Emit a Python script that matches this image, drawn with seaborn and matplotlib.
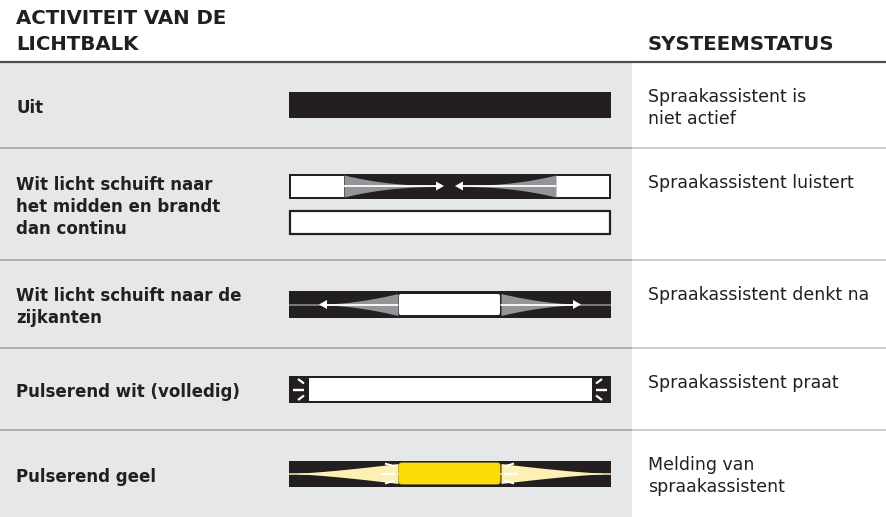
import numpy as np
import seaborn as sns
import matplotlib.pyplot as plt
from matplotlib.patches import Rectangle, FancyBboxPatch, Polygon

sns.set_theme(style="white")
plt.rcParams['font.family'] = ['DejaVu Sans']

# table content
header_left = "ACTIVITEIT VAN DE\nLICHTBALK"
header_right = "SYSTEEMSTATUS"
activities = ["Uit",
              "Wit licht schuift naar\nhet midden en brandt\ndan continu",
              "Wit licht schuift naar de\nzijkanten",
              "Pulserend wit (volledig)",
              "Pulserend geel"]
statuses = ["Spraakassistent is\nniet actief",
            "Spraakassistent luistert",
            "Spraakassistent denkt na",
            "Spraakassistent praat",
            "Melding van\nspraakassistent"]
patterns = ["off", "to_center", "to_sides", "pulse_white", "pulse_yellow"]

# layout (pixels)
row_edges = [62, 148, 260, 348, 430, 517]
W, H = 886, 517
grey_w = 632
bx0, bx1 = 289, 611   # light bar span
bar_h = 26

TXT = "#231f20"
BLACK = "#231f20"
GREY_BG = "#e6e7e8"
HORN = "#939598"
YEL = "#fbdc06"
PALE = "#fdf0b4"

fig = plt.figure(figsize=(W / 100, H / 100), dpi=100)
ax = fig.add_axes([0, 0, 1, 1])
ax.set_xlim(0, W)
ax.set_ylim(H, 0)
ax.axis('off')

ax.add_patch(Rectangle((0, row_edges[0]), grey_w, H - row_edges[0], color=GREY_BG, lw=0, zorder=0))
ax.plot([0, W], [row_edges[0], row_edges[0]], color="#4d4d4f", lw=1.6, solid_capstyle='butt')
for y in row_edges[1:-1]:
    ax.plot([0, grey_w], [y, y], color="#a7a9ac", lw=1.3, solid_capstyle='butt')
    ax.plot([grey_w, W], [y, y], color="#c7c8ca", lw=1.3, solid_capstyle='butt')

ax.text(16, 31.5, header_left, fontsize=14.2, fontweight='bold', color=TXT,
        va='center', ha='left', linespacing=1.5)
ax.text(648, 45, header_right, fontsize=14.2, fontweight='bold', color=TXT,
        va='center', ha='left')

z = [3]


def nz():
    z[0] += 0.1
    return z[0]


def px(n):
    return n * 0.72


def box(x, y, w, h, **kw):
    ax.add_patch(Rectangle((x, y), w, h, zorder=nz(), **kw))


def horn(x0, x1, yc, h0, color, p=2.2):
    t = np.linspace(0, 1, 80)
    x = x0 + (x1 - x0) * t
    half = h0 * (1 - t) ** p + 0.5
    ax.fill_between(x, yc - half, yc + half, color=color, lw=0, zorder=nz())


def arrow_head(tip, yc, direction, color='white'):
    b = tip - direction * 8
    ax.add_patch(Polygon([(b, yc - 4.5), (tip, yc), (b, yc + 4.5)], closed=True,
                         color=color, lw=0, zorder=nz()))


def seg(x, y, lw, color='white'):
    ax.plot(x, y, color=color, lw=px(lw), solid_capstyle='butt', zorder=nz())


def pill(x, y, w, h, r, **kw):
    ax.add_patch(FancyBboxPatch((x, y), w, h, boxstyle=f"round,pad=0,rounding_size={r}",
                                zorder=nz(), **kw))


def draw_bar(kind, yc):
    y0 = yc - bar_h / 2
    if kind == "off":
        box(bx0, y0, bx1 - bx0, bar_h, color=BLACK, lw=0)
    elif kind == "to_center":
        yt = yc - 18
        box(bx0, yt - 12.5, bx1 - bx0, 25, color=BLACK, lw=0)
        box(bx0 + 2, yt - 10.5, 53, 21, color='white', lw=0)
        box(556, yt - 10.5, bx1 - 2 - 556, 21, color='white', lw=0)
        horn(344, 440, yt, 10.5, HORN, p=2.2)
        horn(556, 460, yt, 10.5, HORN, p=2.2)
        seg([344, 437], [yt, yt], 1.8)
        arrow_head(444, yt, 1)
        seg([556, 463], [yt, yt], 1.8)
        arrow_head(455, yt, -1)
        yb = yc + 18
        box(bx0 + 1, yb - 11.5, bx1 - bx0 - 2, 23, facecolor='white',
            edgecolor=BLACK, lw=px(2.2))
    elif kind == "to_sides":
        box(bx0, y0, bx1 - bx0, bar_h + 1, color=BLACK, lw=0)
        yc = yc + 0.5
        seg([bx0, bx1], [yc, yc], 1.5, HORN)
        horn(398, 323, yc, 10.5, HORN, p=1.7)
        horn(501, 577, yc, 10.5, HORN, p=1.7)
        seg([398, 326], [yc, yc], 1.8)
        arrow_head(319, yc, -1)
        seg([501, 574], [yc, yc], 1.8)
        arrow_head(581, yc, 1)
        pill(399, yc - 10.5, 101, 21, 2, color='white', lw=0)
    elif kind == "pulse_white":
        box(bx0, y0, bx1 - bx0, bar_h + 1, color=BLACK, lw=0)
        yc = yc + 0.5
        box(309, yc - 11.5, 283, 23, color='white', lw=0)
        for s, xe in ((1, bx0), (-1, bx1)):
            seg([xe + s * 4, xe + s * 15], [yc, yc], 2.4)
            seg([xe + s * 9, xe + s * 15], [yc - 10.5, yc - 6], 2.2)
            seg([xe + s * 9, xe + s * 15], [yc + 10.5, yc + 6], 2.2)
    elif kind == "pulse_yellow":
        box(bx0, y0, bx1 - bx0, bar_h, color=BLACK, lw=0)
        seg([bx0, bx1], [yc, yc], 1.5, PALE)
        horn(398, 298, yc, 9.5, PALE, p=1.3)
        horn(501, 602, yc, 9.5, PALE, p=1.3)
        pill(399, yc - 10.5, 101, 21, 2.5, facecolor=YEL, edgecolor=YEL, lw=0.6)
        for s, xe in ((-1, 397), (1, 502)):
            seg([xe + s * 2, xe + s * 16], [yc, yc], 2.4)
            seg([xe + s * 2, xe + s * 12], [yc - 7, yc - 10], 2.0)
            seg([xe + s * 2, xe + s * 12], [yc + 7, yc + 10], 2.0)


for i, (act, stat, kind) in enumerate(zip(activities, statuses, patterns)):
    top, bot = row_edges[i], row_edges[i + 1]
    yc = (top + bot) / 2
    ax.text(16, yc + 3, act, fontsize=12.0, fontweight='bold', color=TXT,
            va='center', ha='left', linespacing=1.32)
    ax.text(648, top + 25.5, stat, fontsize=12.5, color=TXT,
            va='top', ha='left', linespacing=1.3)
    draw_bar(kind, yc)

fig.savefig("out.png", dpi=100)
